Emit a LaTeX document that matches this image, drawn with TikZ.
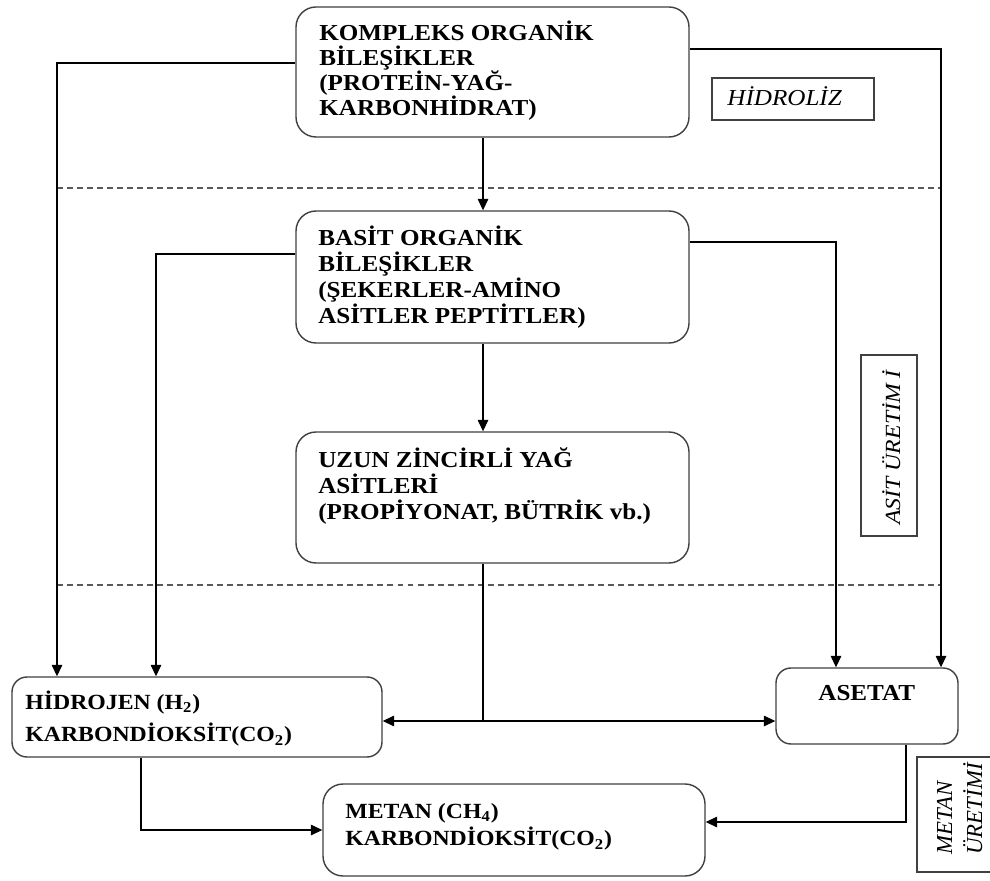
\documentclass[tikz,border=0pt]{standalone}
\usepackage{fontspec}
\setmainfont{Liberation Serif}[FakeStretch=1.1]
\newfontfamily\plainserif{Liberation Serif}
\usetikzlibrary{arrows.meta,fit}
% stack of lines whose baseline is the first line's baseline
\newcommand\linestack[2]{\vtop{\baselineskip=#1\relax #2}}
\begin{document}
\begin{tikzpicture}[x=0.02cm,y=-0.02cm,
  box/.style={draw=black!75, line width=0.8pt, rounded corners=0.4cm, inner sep=0pt},
  txt/.style={inner sep=0pt, anchor=base west, font=\bfseries\fontsize{13}{15}\selectfont},
  tag/.style={draw=black!75, line width=0.8pt, inner sep=0pt},
  tagtxt/.style={inner sep=0pt, anchor=base west, font=\itshape\fontsize{13}{15}\selectfont},
  link/.style={line width=0.6pt},
  arr/.style={link, -{Triangle[length=6.5pt,width=6pt]}},
  sep/.style={dash pattern=on 3.4pt off 2.3pt, line width=0.7pt, black!65}]
\useasboundingbox (0,0) rectangle (990,881);
\fill[white] (0,0) rectangle (990,881);
\clip (0,0) rectangle (990,881);

% stage separators
\draw[sep] (57,188) -- (941,188);
\draw[sep] (57,585) -- (941,585);

% process boxes
\node[box, fit={(296,7) (689,137)}] (kom) {};
\node[box, fit={(296,211) (689,343)}] (bas) {};
\node[box, fit={(296,432) (689,563)}] (uzun) {};
\node[box, rounded corners=0.3cm, fit={(12,677) (382,757)}] (hid) {};
\node[box, rounded corners=0.3cm, fit={(776,668) (958,744)}] (ase) {};
\node[box, fit={(323,784) (705,876)}] (met) {};

\node[txt] (tkom) at (319,41) {\linestack{0.5cm}{\hbox{KOMPLEKS ORGANİK}\hbox{BİLEŞİKLER}\hbox{(PROTEİN-YAĞ-}\hbox{KARBONHİDRAT)}}};
\node[txt] (tbas) at (318,246) {\linestack{0.52cm}{\hbox{BASİT ORGANİK}\hbox{BİLEŞİKLER}\hbox{(ŞEKERLER-AMİNO}\hbox{ASİTLER PEPTİTLER)}}};
\node[txt] (tuzun) at (318,467) {\linestack{0.53cm}{\hbox{UZUN ZİNCİRLİ YAĞ}\hbox{ASİTLERİ}\hbox{(PROPİYONAT, BÜTRİK vb.)}}};
\node[txt, font=\bfseries\fontsize{12.3}{15}\selectfont] (thid) at (25,709) {\linestack{0.66cm}{\hbox{HİDROJEN (H\textsubscript{2})}\hbox{KARBONDİOKSİT(CO\textsubscript{2})}}};
\node[txt] (tase) at (818,700) {ASETAT};
\node[txt, font=\bfseries\fontsize{12.3}{15}\selectfont] (tmet) at (345,818) {\linestack{0.56cm}{\hbox{METAN (CH\textsubscript{4})}\hbox{KARBONDİOKSİT(CO\textsubscript{2})}}};

% stage tags
\node[tag, fit={(712,78) (874,120)}] (hidr) {};
\node[tagtxt] (thidr) at (727,106) {HİDROLİZ};
\node[tag, fit={(861,355) (917,536)}] (asit) {};
\node[tagtxt, rotate=90, font=\itshape\fontsize{12.3}{15}\selectfont] (tasit) at (900,525) {ASİT ÜRETİM İ};
\node[tag, fit={(917,757) (996,872)}] (metu) {};
\node[tagtxt, rotate=90, font=\plainserif\itshape\fontsize{13}{15}\selectfont] (tmetu1) at (952,855) {METAN};
\node[tagtxt, rotate=90, font=\plainserif\itshape\fontsize{13}{15}\selectfont] (tmetu2) at (982,855) {ÜRETİMİ};

% bend points of the connectors
\coordinate (p1) at (57,63);
\coordinate (p2) at (941,49);
\coordinate (p3) at (156,254);
\coordinate (p4) at (836,242);
\coordinate (sp) at (483,721);
\coordinate (p6) at (141,830);
\coordinate (p7) at (906,822);

% connectors
\draw[arr] (kom.west |- p1) -- (p1) -- (hid.north -| p1);
\draw[arr] (kom.east |- p2) -- (p2) -- (ase.north -| p2);
\draw[arr] (kom.south -| sp) -- (bas.north -| sp);
\draw[arr] (bas.west |- p3) -- (p3) -- (hid.north -| p3);
\draw[arr] (bas.east |- p4) -- (p4) -- (ase.north -| p4);
\draw[arr] (bas.south -| sp) -- (uzun.north -| sp);
\draw[link] (uzun.south -| sp) -- (sp);
\draw[arr] (sp) -- (hid.east |- sp);
\draw[arr] (sp) -- (ase.west |- sp);
\draw[arr] (hid.south -| p6) -- (p6) -- (met.west |- p6);
\draw[arr] (ase.south -| p7) -- (p7) -- (met.east |- p7);
\end{tikzpicture}
\end{document}
